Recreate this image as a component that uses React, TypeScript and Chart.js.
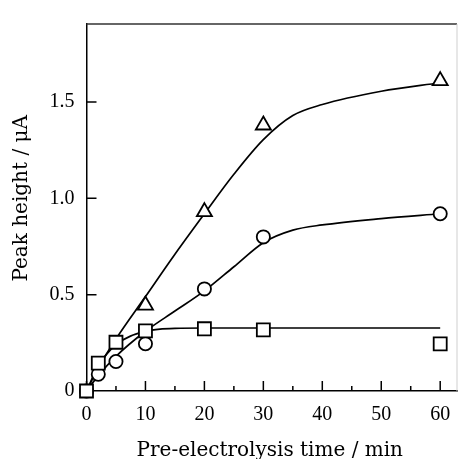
import React, { useEffect, useRef } from 'react';
import { Chart, registerables } from 'chart.js';

Chart.register(...registerables);

// ---- data ----
const timePoints = [0, 2, 5, 10, 20, 30, 60];
const triangleValues: (number | null)[] = [null, null, null, 0.445, 0.93, 1.38, 1.61];
const circleValues = [0, 0.087, 0.153, 0.245, 0.53, 0.8, 0.92];
const squareValues = [0, 0.145, 0.253, 0.312, 0.323, 0.317, 0.245];

// smooth fitted curves
const curveTimes = [0, 2, 5, 10, 15, 20, 25, 30, 35, 40, 50, 60];
const triangleCurve = [0, 0.12, 0.27, 0.49, 0.71, 0.92, 1.125, 1.305, 1.43, 1.487, 1.556, 1.6];
const circleCurve = [0, 0.08, 0.18, 0.31, 0.415, 0.52, 0.645, 0.77, 0.835, 0.862, 0.895, 0.92];
const squareCurve = [0, 0.13, 0.24, 0.31, 0.325, 0.327, 0.327, 0.327, 0.327, 0.327, 0.327, 0.327];

const xMajorTicks = [0, 10, 20, 30, 40, 50, 60];
const xMinorTicks = [5, 15, 25, 35, 45, 55];
const yMajorTicks = [0, 0.5, 1.0, 1.5];
const yTickLabels = ['0', '0.5', '1.0', '1.5'];

const xTitle = 'Pre-electrolysis time / min';
const yTitle = 'Peak height / \u03bcA';

const toXY = (xs: number[], ys: (number | null)[]) =>
  xs.map((x, i) => ({ x, y: ys[i] })).filter((p) => p.y !== null) as { x: number; y: number }[];

const decorPlugin = {
  id: 'decor',
  beforeDatasetsDraw(chart: any) {
    const { ctx, chartArea, scales } = chart;
    const xs = scales.x;
    const ys = scales.y;
    ctx.save();
    ctx.strokeStyle = '#000';
    ctx.lineWidth = 1.5;
    ctx.beginPath();
    xMajorTicks.forEach((v) => {
      const px = xs.getPixelForValue(v);
      ctx.moveTo(px, chartArea.bottom);
      ctx.lineTo(px, chartArea.bottom - 10);
    });
    xMinorTicks.forEach((v) => {
      const px = xs.getPixelForValue(v);
      ctx.moveTo(px, chartArea.bottom);
      ctx.lineTo(px, chartArea.bottom - 5);
    });
    yMajorTicks.forEach((v) => {
      if (v === 0) return;
      const py = ys.getPixelForValue(v);
      ctx.moveTo(chartArea.left, py);
      ctx.lineTo(chartArea.left + 10, py);
    });
    ctx.stroke();

    // frame: top and (faint) right
    ctx.strokeStyle = '#333';
    ctx.lineWidth = 1.5;
    ctx.beginPath();
    ctx.moveTo(chartArea.left, chartArea.top);
    ctx.lineTo(chartArea.right, chartArea.top);
    ctx.stroke();
    ctx.strokeStyle = '#cfcfcf';
    ctx.lineWidth = 1;
    ctx.beginPath();
    ctx.moveTo(chartArea.right, chartArea.top);
    ctx.lineTo(chartArea.right, chartArea.bottom);
    ctx.stroke();

    // axis titles
    ctx.fillStyle = '#000';
    ctx.font = '20px "DejaVu Serif"';
    ctx.textAlign = 'center';
    ctx.textBaseline = 'alphabetic';
    ctx.fillText(xTitle, (chartArea.left + chartArea.right) / 2 - 2, chart.height - 3);
    ctx.translate(26.5, ys.getPixelForValue(1.0));
    ctx.rotate(-Math.PI / 2);
    ctx.fillText(yTitle, 0, 0);
    ctx.restore();
  },
};

export default function App() {
  const canvasRef = useRef<HTMLCanvasElement | null>(null);

  useEffect(() => {
    document.body.style.margin = '0';
    const canvas = canvasRef.current;
    if (!canvas) return;

    const markerCommon = {
      showLine: false,
      pointBackgroundColor: '#fff',
      pointBorderColor: '#000',
      pointBorderWidth: 1.8,
      borderColor: '#000',
      clip: false as const,
    };
    const curveCommon = {
      showLine: true,
      pointRadius: 0,
      borderColor: '#000',
      borderWidth: 1.7,
      cubicInterpolationMode: 'monotone' as const,
      fill: false,
      clip: false as const,
    };

    const chart = new Chart(canvas, {
      type: 'line',
      data: {
        datasets: [
          { ...markerCommon, label: 'square', data: toXY(timePoints, squareValues), pointStyle: 'rect', pointRadius: 9.2 },
          { ...markerCommon, label: 'circle', data: toXY(timePoints, circleValues), pointStyle: 'circle', pointRadius: 6.6 },
          { ...markerCommon, label: 'triangle', data: toXY(timePoints, triangleValues), pointStyle: 'triangle', pointRadius: 8.7 },
          { ...curveCommon, label: 'squareFit', data: toXY(curveTimes, squareCurve) },
          { ...curveCommon, label: 'circleFit', data: toXY(curveTimes, circleCurve) },
          { ...curveCommon, label: 'triangleFit', data: toXY(curveTimes, triangleCurve) },
        ],
      },
      options: {
        responsive: false,
        animation: false,
        devicePixelRatio: 1,
        layout: { padding: { top: 10, right: 1.5, left: 0, bottom: 0 } },
        plugins: { legend: { display: false }, tooltip: { enabled: false } },
        events: [],
        scales: {
          x: {
            type: 'linear',
            min: 0,
            max: 62.85,
            afterBuildTicks: (s: any) => {
              s.ticks = xMajorTicks.map((v) => ({ value: v }));
            },
            afterFit: (s: any) => {
              s.height = 68;
            },
            grid: { display: false, drawTicks: false },
            border: { display: true, color: '#000', width: 1.5 },
            ticks: {
              padding: 12,
              color: '#000',
              autoSkip: false,
              maxRotation: 0,
              font: { family: 'Liberation Serif', size: 20 },
              callback: (v: any) => String(v),
            },
          },
          y: {
            type: 'linear',
            min: 0,
            max: 1.905,
            afterBuildTicks: (s: any) => {
              s.ticks = yMajorTicks.map((v) => ({ value: v }));
            },
            afterFit: (s: any) => {
              s.width = 86.5;
            },
            grid: { display: false, drawTicks: false },
            border: { display: true, color: '#000', width: 1.5 },
            ticks: {
              padding: 12,
              color: '#000',
              autoSkip: false,
              font: { family: 'Liberation Serif', size: 20 },
              callback: (_v: any, i: number) => yTickLabels[i],
            },
          },
        },
      },
      plugins: [decorPlugin],
    });

    return () => chart.destroy();
  }, []);

  return (
    <div style={{ width: 468, height: 459, background: '#fff' }}>
      <canvas ref={canvasRef} width={468} height={459} style={{ display: 'block' }} />
    </div>
  );
}
